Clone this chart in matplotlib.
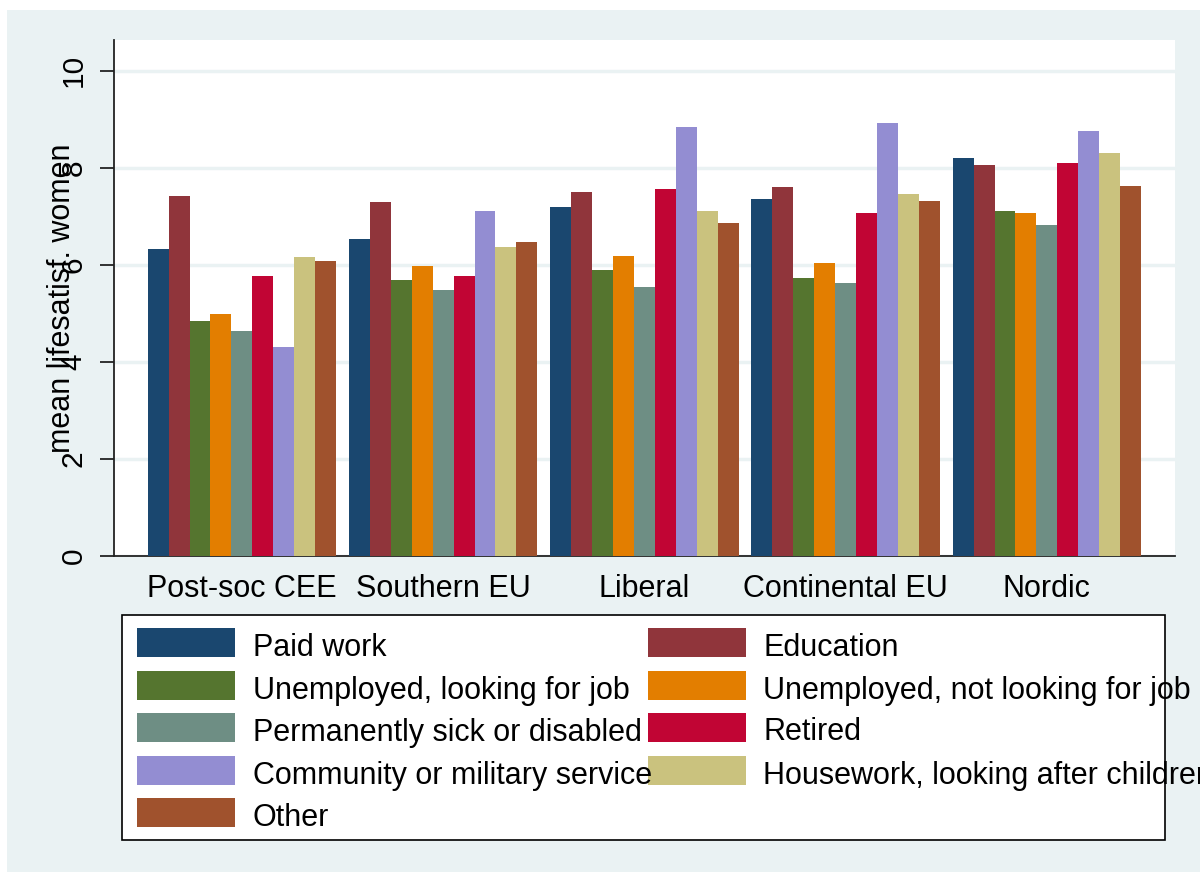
import matplotlib
matplotlib.use("Agg")
import matplotlib.pyplot as plt
from matplotlib.patches import Rectangle
import numpy as np

plt.rcParams['font.family'] = ['Liberation Sans', 'DejaVu Sans']

regimes = ['Post-soc CEE', 'Southern EU', 'Liberal', 'Continental EU', 'Nordic']
statuses = ['Paid work', 'Education', 'Unemployed, looking for job',
            'Unemployed, not looking for job', 'Permanently sick or disabled',
            'Retired', 'Community or military service',
            'Housework, looking after children', 'Other']

paid_work = [6.32, 6.54, 7.18, 7.35, 8.19]
education = [7.42, 7.29, 7.49, 7.60, 8.06]
unemp_looking = [4.84, 5.69, 5.90, 5.72, 7.10]
unemp_not_looking = [4.99, 5.97, 6.19, 6.04, 7.06]
sick_disabled = [4.63, 5.47, 5.55, 5.62, 6.81]
retired = [5.77, 5.76, 7.56, 7.07, 8.10]
community_military = [4.31, 7.10, 8.83, 8.93, 8.76]
housework = [6.15, 6.36, 7.10, 7.45, 8.30]
other = [6.08, 6.47, 6.85, 7.32, 7.63]

series = [paid_work, education, unemp_looking, unemp_not_looking, sick_disabled,
          retired, community_military, housework, other]

# stata s2color palette
colors = ['#1A476F', '#90353B', '#55752F', '#E37E00', '#6E8E84',
          '#C10534', '#938DD2', '#CAC27E', '#A0522D']

W, H = 1200, 872
fig = plt.figure(figsize=(12, 8.72), dpi=100)
fig.patch.set_facecolor('white')
# graph region (light bluish gray), small white margin top/left
fig.patches.append(Rectangle((7 / W, 0), 1 - 7 / W, 1 - 10 / H, transform=fig.transFigure,
                             facecolor='#EAF2F3', edgecolor='none', zorder=-10))

ax = fig.add_axes([114 / W, 1 - 556 / H, (1175 - 114) / W, (556 - 40) / H])
ax.set_facecolor('white')

x = np.arange(len(regimes))
w = 0.104
for i, vals in enumerate(series):
    ax.bar(x + (i - 4) * w, vals, width=w, color=colors[i], linewidth=0, zorder=3)

ax.set_xlim(-0.6355, 4.6366)
ax.set_ylim(0, 10.63)
ax.set_yticks([0, 2, 4, 6, 8, 10])
ax.set_xticks(x)
ax.set_xticklabels(regimes, fontsize=22)
ax.tick_params(axis='x', length=0, pad=13)
ax.tick_params(axis='y', length=10, width=1.3, color='#222222', pad=9,
               labelsize=21.5, labelrotation=90)
for lab in ax.get_yticklabels():
    lab.set_verticalalignment('center')

ax.yaxis.grid(True, color='#EAF2F3', linewidth=2.5, zorder=0)
ax.set_axisbelow(True)
for s in ['top', 'right']:
    ax.spines[s].set_visible(False)
for s in ['left', 'bottom']:
    ax.spines[s].set_color('#222222')
    ax.spines[s].set_linewidth(1.3)

ax.set_ylabel('mean lifesatisf. women', fontsize=22, va='center')
ax.yaxis.set_label_coords((62 - 114) / (1175 - 114), 0.5)

# legend drawn by hand (text spills past the frame like the original)
fig.patches.append(Rectangle((122 / W, 1 - 840 / H), (1165 - 122) / W, (840 - 615) / H,
                             transform=fig.transFigure, facecolor='white',
                             edgecolor='black', linewidth=1.2, zorder=1))
row_y = [642, 685, 727, 770, 812]
col_sw = [137, 648]
col_tx = [253, 763]
for k, name in enumerate(statuses):
    r, c = k // 2, k % 2
    yc = row_y[r]
    fig.patches.append(Rectangle((col_sw[c] / W, 1 - (yc + 14.5) / H), 98 / W, 29 / H,
                                 transform=fig.transFigure, facecolor=colors[k],
                                 edgecolor='none', zorder=2))
    fig.text(col_tx[c] / W, 1 - (yc + 2) / H, name, fontsize=22, ha='left',
             va='center_baseline', zorder=3)

fig.savefig('out.png', dpi=100, facecolor=fig.get_facecolor())
